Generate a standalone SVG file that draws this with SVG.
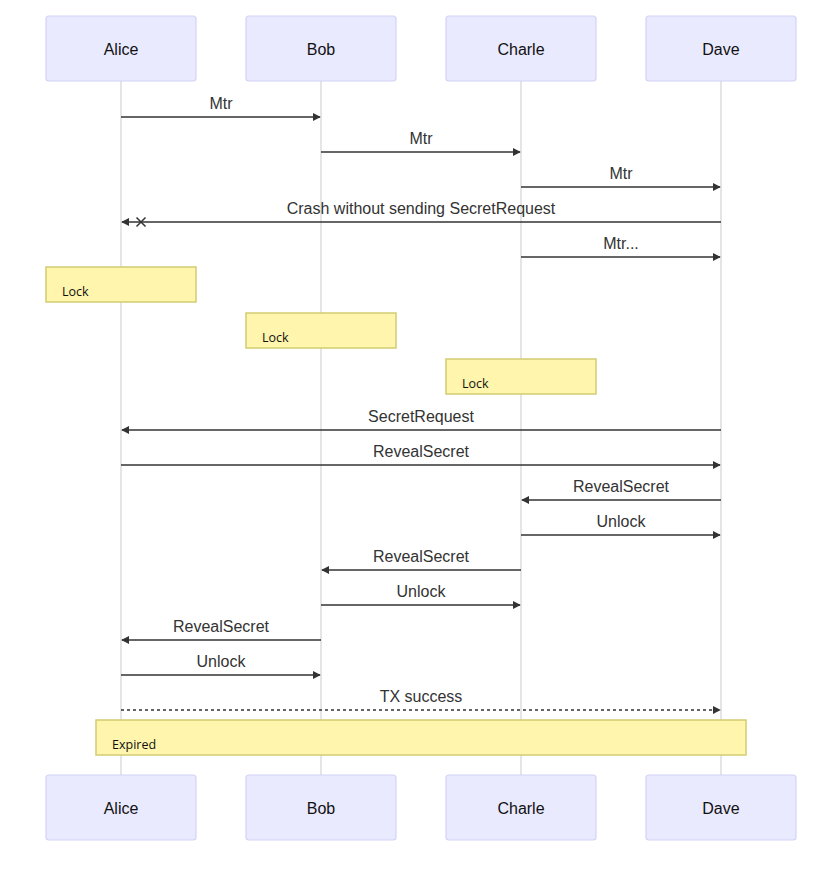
<svg xmlns="http://www.w3.org/2000/svg" width="836" height="873" viewBox="0 0 836 873">
<style>
  .actor rect { fill: #eaeaff; stroke: #d2d2f7; stroke-width: 1.2; }
  .actor text { font-family: "Liberation Sans", Arial, sans-serif; font-size: 16px; fill: #111; text-anchor: middle; dominant-baseline: central; }
  .life { stroke: #dddddd; stroke-width: 1.5; }
  .msg { stroke: #333; stroke-width: 1.5; fill: none; }
  .dash { stroke-dasharray: 3 3; }
  .label { font-family: "Liberation Sans", Arial, sans-serif; font-size: 16px; fill: #333; text-anchor: middle; }
  .note rect { fill: #fff5ad; stroke: #d2cc72; stroke-width: 1.5; }
  .note text { font-family: "Open Sans", "DejaVu Sans", sans-serif; font-size: 12.5px; fill: #111; }
</style>
<defs>
  <marker id="arrow" viewBox="0 0 10 10" refX="9" refY="5" markerWidth="8" markerHeight="8" markerUnits="userSpaceOnUse" orient="auto">
    <path d="M0,0 L10,5 L0,10 z" fill="#333"/>
  </marker>
</defs>

<!-- lifelines -->
<g id="lifelines">
  <line class="life" x1="121" y1="81" x2="121" y2="775"/>
  <line class="life" x1="321" y1="81" x2="321" y2="775"/>
  <line class="life" x1="521" y1="81" x2="521" y2="775"/>
  <line class="life" x1="721" y1="81" x2="721" y2="775"/>
</g>

<!-- participants (top) -->
<g id="alice-top" class="actor"><rect x="46" y="16" width="150" height="65" rx="3"/><text x="121" y="49">Alice</text></g>
<g id="bob-top" class="actor"><rect x="246" y="16" width="150" height="65" rx="3"/><text x="321" y="49">Bob</text></g>
<g id="charle-top" class="actor"><rect x="446" y="16" width="150" height="65" rx="3"/><text x="521" y="49">Charle</text></g>
<g id="dave-top" class="actor"><rect x="646" y="16" width="150" height="65" rx="3"/><text x="721" y="49">Dave</text></g>

<!-- participants (bottom) -->
<g id="alice-bottom" class="actor"><rect x="46" y="775" width="150" height="65" rx="3"/><text x="121" y="808">Alice</text></g>
<g id="bob-bottom" class="actor"><rect x="246" y="775" width="150" height="65" rx="3"/><text x="321" y="808">Bob</text></g>
<g id="charle-bottom" class="actor"><rect x="446" y="775" width="150" height="65" rx="3"/><text x="521" y="808">Charle</text></g>
<g id="dave-bottom" class="actor"><rect x="646" y="775" width="150" height="65" rx="3"/><text x="721" y="808">Dave</text></g>

<!-- notes -->
<g id="note-lock-alice" class="note"><rect x="46" y="267" width="150" height="35"/><text x="62" y="296">Lock</text></g>
<g id="note-lock-bob" class="note"><rect x="246" y="313" width="150" height="35"/><text x="262" y="342">Lock</text></g>
<g id="note-lock-charle" class="note"><rect x="446" y="359" width="150" height="35"/><text x="462" y="388">Lock</text></g>
<g id="note-expired" class="note"><rect x="96" y="720" width="650" height="35"/><text x="112" y="749">Expired</text></g>

<!-- messages -->
<g id="connectors">
  <line class="msg" x1="121" y1="117" x2="320" y2="117" marker-end="url(#arrow)"/>
  <text class="label" x="221" y="109">Mtr</text>

  <line class="msg" x1="321" y1="152" x2="520" y2="152" marker-end="url(#arrow)"/>
  <text class="label" x="421" y="144">Mtr</text>

  <line class="msg" x1="521" y1="187" x2="720" y2="187" marker-end="url(#arrow)"/>
  <text class="label" x="621" y="179">Mtr</text>

  <line class="msg" x1="721" y1="222" x2="122" y2="222" marker-end="url(#arrow)"/>
  <path class="msg" d="M136.5,217.5 L145.5,226.5 M145.5,217.5 L136.5,226.5" stroke-width="1.3"/>
  <text class="label" x="421" y="214">Crash without sending SecretRequest</text>

  <line class="msg" x1="521" y1="257" x2="720" y2="257" marker-end="url(#arrow)"/>
  <text class="label" x="621" y="249">Mtr...</text>

  <line class="msg" x1="721" y1="430" x2="122" y2="430" marker-end="url(#arrow)"/>
  <text class="label" x="421" y="422">SecretRequest</text>

  <line class="msg" x1="121" y1="465" x2="720" y2="465" marker-end="url(#arrow)"/>
  <text class="label" x="421" y="457">RevealSecret</text>

  <line class="msg" x1="721" y1="500" x2="522" y2="500" marker-end="url(#arrow)"/>
  <text class="label" x="621" y="492">RevealSecret</text>

  <line class="msg" x1="521" y1="535" x2="720" y2="535" marker-end="url(#arrow)"/>
  <text class="label" x="621" y="527">Unlock</text>

  <line class="msg" x1="521" y1="570" x2="322" y2="570" marker-end="url(#arrow)"/>
  <text class="label" x="421" y="562">RevealSecret</text>

  <line class="msg" x1="321" y1="605" x2="520" y2="605" marker-end="url(#arrow)"/>
  <text class="label" x="421" y="597">Unlock</text>

  <line class="msg" x1="321" y1="640" x2="122" y2="640" marker-end="url(#arrow)"/>
  <text class="label" x="221" y="632">RevealSecret</text>

  <line class="msg" x1="121" y1="675" x2="320" y2="675" marker-end="url(#arrow)"/>
  <text class="label" x="221" y="667">Unlock</text>

  <line class="msg dash" x1="121" y1="710" x2="720" y2="710" marker-end="url(#arrow)"/>
  <text class="label" x="421" y="702">TX success</text>
</g>
</svg>
